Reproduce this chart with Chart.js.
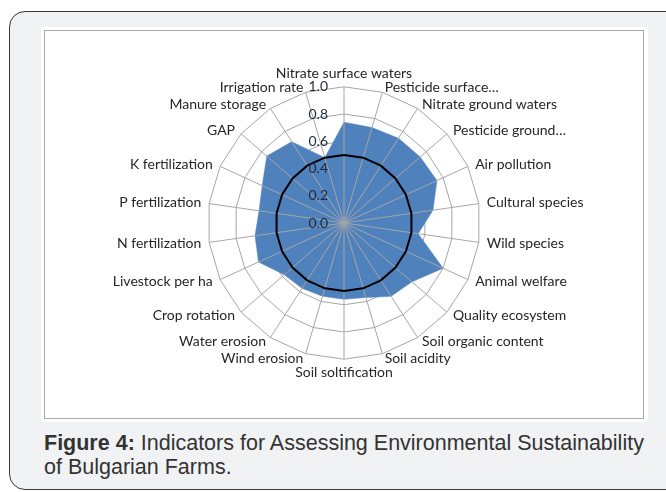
<!DOCTYPE html>
<html>
<head>
<meta charset="utf-8">
<script src="https://cdn.jsdelivr.net/npm/chart.js@4/dist/chart.umd.min.js"></script>
<style>
  html, body { margin: 0; padding: 0; background: #ffffff; }
  body { width: 666px; height: 492px; position: relative; overflow: hidden; }
  #frame { position: absolute; left: 9px; top: 11px; width: 690px; height: 477px;
    border: 1.5px solid #3a3a3a; border-radius: 16px; background: #f1f2f4; }
  #white { position: absolute; left: 41px; top: 27px; width: 607px; height: 395px; background: #ffffff; }
  #box { position: absolute; left: 44px; top: 30px; width: 598px; height: 387px; border: 1px solid #a9a9a9; }
  #chartWrap { position: absolute; left: 44px; top: 63px; width: 600px; height: 322px; }
  #caption { position: absolute; left: 44px; top: 431px; width: 640px; white-space: nowrap;
    font-family: "Liberation Sans", Arial, sans-serif; font-size: 21.5px; line-height: 24px; color: #333; }
  #caption b { font-weight: bold; }
</style>
</head>
<body>
<div id="frame"></div>
<div id="white"></div>
<div id="box"></div>
<div id="chartWrap"><canvas id="c"></canvas></div>
<div id="caption"><b>Figure 4:</b> Indicators for Assessing Environmental Sustainability<br>of Bulgarian Farms.</div>
<script>
const categories = [
  "Nitrate surface waters", "Pesticide surface\u2026", "Nitrate ground waters", "Pesticide ground\u2026",
  "Air pollution", "Cultural species", "Wild species", "Animal welfare", "Quality ecosystem",
  "Soil organic content", "Soil acidity", "Soil soltification", "Wind erosion", "Water erosion",
  "Crop rotation", "Livestock per ha", "N fertilization", "P fertilization", "K fertilization",
  "GAP", "Manure storage", "Irrigation rate"
];
const farmValues = [0.74, 0.73, 0.74, 0.74, 0.75, 0.66, 0.55, 0.80, 0.66, 0.64, 0.57,
                    0.56, 0.56, 0.57, 0.58, 0.69, 0.66, 0.63, 0.66, 0.75, 0.71, 0.50];
const thresholdValues = [0.5, 0.5, 0.5, 0.5, 0.5, 0.5, 0.5, 0.5, 0.5, 0.5, 0.5,
                         0.5, 0.5, 0.5, 0.5, 0.5, 0.5, 0.5, 0.5, 0.5, 0.5, 0.5];
const scaleMin = 0, scaleMax = 1, scaleStep = 0.2;

const LABEL_SIZE = 14;
const LABEL_FONT = "Lato";

// draw spokes on top of the filled area (as in the original Excel chart)
const spokePlugin = {
  id: 'spokes',
  afterDatasetDraw(chart, args) {
    if (args.index !== 1) return;
    const s = chart.scales.r, ctx = chart.ctx;
    ctx.save();
    ctx.strokeStyle = '#a6a6a6';
    ctx.lineWidth = 1;
    ctx.beginPath();
    for (let i = 0; i < categories.length; i++) {
      const p = s.getPointPosition(i, s.drawingArea);
      ctx.moveTo(s.xCenter, s.yCenter);
      ctx.lineTo(p.x, p.y);
    }
    ctx.stroke();
    ctx.restore();
  },
  afterDraw(chart) {
    const s = chart.scales.r, ctx = chart.ctx;
    ctx.save();
    ctx.font = LABEL_SIZE + 'px ' + LABEL_FONT;
    ctx.fillStyle = '#1f2a3c';
    ctx.textAlign = 'right';
    ctx.textBaseline = 'middle';
    s.ticks.forEach(t => {
      const y = s.yCenter - s.getDistanceFromCenterForValue(t.value);
      ctx.fillText(t.label, s.xCenter - 16, y);
    });
    ctx.restore();
  }
};

new Chart(document.getElementById('c'), {
  type: 'radar',
  data: {
    labels: categories,
    datasets: [
      { label: 'Threshold', data: thresholdValues, borderColor: '#000000', borderWidth: 2,
        fill: false, pointRadius: 0, backgroundColor: 'rgba(0,0,0,0)' },
      { label: 'Farms', data: farmValues, backgroundColor: '#4f81bd', borderColor: '#4f81bd',
        borderWidth: 0.5, fill: true, pointRadius: 0 }
    ]
  },
  options: {
    responsive: true,
    maintainAspectRatio: false,
    animation: false,
    layout: { padding: 0 },
    plugins: { legend: { display: false }, tooltip: { enabled: false } },
    scales: {
      r: {
        min: scaleMin, max: scaleMax,
        ticks: { stepSize: scaleStep, display: false, callback: v => Number(v).toFixed(1) },
        grid: { color: '#a6a6a6', lineWidth: 1 },
        angleLines: { display: false },
        pointLabels: { padding: 8, color: '#262626', font: { family: LABEL_FONT, size: LABEL_SIZE } },
        afterFit(scale) {
          // centre side labels vertically on their spoke, like Excel does
          const n = categories.length;
          const h = LABEL_SIZE * 1.2;
          (scale._pointLabelItems || []).forEach((item, i) => {
            const deg = i * 360 / n;
            let shift = 0;
            if (deg !== 0 && deg !== 180) shift = (deg < 90 || deg > 270) ? h / 2 : -h / 2;
            shift += 3 * Math.cos(deg * Math.PI / 180);
            item.y += shift; item.top += shift; item.bottom += shift;
          });
        }
      }
    }
  },
  plugins: [spokePlugin]
});
</script>
</body>
</html>
